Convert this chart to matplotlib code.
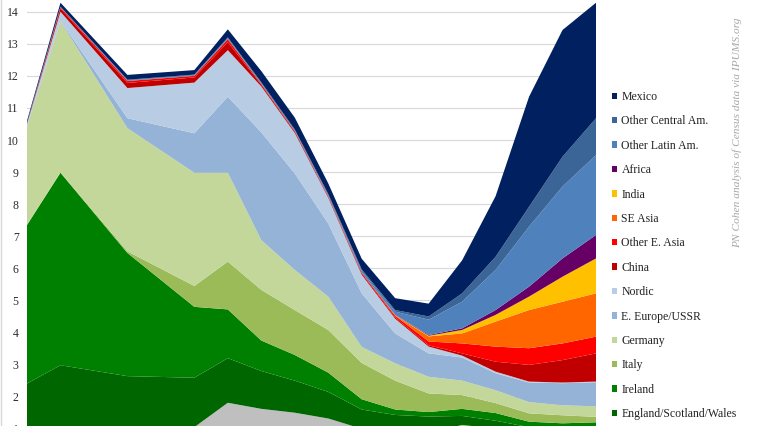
"""Immigrant share of the population by origin, stacked area (cropped view as in reference)."""
import matplotlib
matplotlib.use("Agg")
import matplotlib.pyplot as plt
from matplotlib.lines import Line2D

plt.rcParams["font.family"] = ["Liberation Serif", "DejaVu Serif"]

YEARS = [1850, 1860, 1880, 1900, 1910, 1920, 1930, 1940,
         1950, 1960, 1970, 1980, 1990, 2000, 2010, 2020]

# bottom layer (grey), its legend entry falls below the visible crop
other_grey = [0.50, 0.60, 0.80, 1.05, 1.81, 1.62, 1.50, 1.32, 1.00, 0.90, 0.85, 1.12, 1.00, 0.85, 0.80, 0.80]
england = [1.91, 2.38, 1.84, 1.54, 1.39, 1.18, 1.00, 0.83, 0.60, 0.53, 0.53, 0.28, 0.25, 0.20, 0.22, 0.28]
ireland = [4.94, 6.00, 3.84, 2.21, 1.52, 0.95, 0.80, 0.60, 0.32, 0.17, 0.14, 0.22, 0.24, 0.17, 0.15, 0.12]
italy = [0.01, 0.02, 0.05, 0.65, 1.49, 1.58, 1.40, 1.33, 1.13, 0.90, 0.58, 0.43, 0.31, 0.26, 0.25, 0.17]
germany = [3.06, 4.70, 3.84, 3.53, 2.77, 1.55, 1.25, 1.04, 0.50, 0.54, 0.52, 0.45, 0.40, 0.35, 0.31, 0.33]
e_europe = [0.03, 0.02, 0.31, 1.23, 2.37, 3.36, 3.01, 2.28, 1.67, 0.93, 0.73, 0.72, 0.53, 0.61, 0.69, 0.75]
nordic = [0.05, 0.28, 0.94, 1.58, 1.45, 1.43, 1.26, 0.80, 0.58, 0.46, 0.21, 0.06, 0.05, 0.03, 0.02, 0.02]
china = [0.02, 0.10, 0.16, 0.16, 0.25, 0.05, 0.04, 0.03, 0.04, 0.04, 0.04, 0.07, 0.31, 0.52, 0.70, 0.88]
other_e_asia = [0.00, 0.04, 0.06, 0.05, 0.09, 0.03, 0.02, 0.02, 0.03, 0.05, 0.12, 0.31, 0.47, 0.52, 0.52, 0.52]
se_asia = [0, 0, 0, 0, 0, 0, 0, 0, 0, 0.01, 0.16, 0.31, 0.78, 1.19, 1.30, 1.35]
india = [0, 0, 0, 0, 0, 0, 0, 0, 0, 0.01, 0.02, 0.11, 0.21, 0.42, 0.78, 1.09]
africa = [0, 0, 0, 0, 0, 0, 0, 0, 0, 0.01, 0.02, 0.05, 0.15, 0.31, 0.57, 0.73]
other_latin = [0.01, 0.01, 0.02, 0.02, 0.03, 0.02, 0.02, 0.03, 0.05, 0.10, 0.48, 0.83, 1.25, 1.87, 2.24, 2.49]
other_central = [0.01, 0.01, 0.02, 0.02, 0.03, 0.03, 0.03, 0.04, 0.05, 0.05, 0.10, 0.26, 0.41, 0.62, 0.93, 1.15]
mexico = [0.06, 0.12, 0.15, 0.14, 0.25, 0.35, 0.37, 0.33, 0.33, 0.37, 0.40, 1.03, 1.89, 3.43, 3.95, 3.60]

SERIES = [other_grey, england, ireland, italy, germany, e_europe, nordic, china,
          other_e_asia, se_asia, india, africa, other_latin, other_central, mexico]
LABELS = ["_grey", "England/Scotland/Wales", "Ireland", "Italy", "Germany",
          "E. Europe/USSR", "Nordic", "China", "Other E. Asia", "SE Asia", "India",
          "Africa", "Other Latin Am.", "Other Central Am.", "Mexico"]
COLORS = ["#BFBFBF", "#006600", "#008000", "#9BBB59", "#C4D79B", "#95B3D7", "#B8CCE4",
          "#C00000", "#FF0000", "#FF6600", "#FFC000", "#660066", "#4F81BD", "#3A6596",
          "#002060"]

W, H = 758, 426
PX_PER_UNIT = 32.08
YMAX = 14.365


def main():
    fig = plt.figure(figsize=(W / 100, H / 100), dpi=100)
    ax_h = YMAX * PX_PER_UNIT
    ax = fig.add_axes([27 / W, (H - ax_h) / H, 569 / W, ax_h / H])

    polys = ax.stackplot(YEARS, *SERIES, colors=COLORS, labels=LABELS,
                         linewidth=0, zorder=2)

    ax.set_xlim(YEARS[0], YEARS[-1])
    ax.set_ylim(0, YMAX)
    ax.set_yticks(range(1, 15))
    ax.set_xticks([])
    ax.tick_params(axis="y", length=0, pad=6, labelsize=8.5, labelcolor="#2b2b2b")
    ax.grid(axis="y", color="#D9D9D9", linewidth=0.8, zorder=0)
    ax.set_axisbelow(True)
    for s in ax.spines.values():
        s.set_visible(False)

    handles = [p for p, l in zip(polys, LABELS) if not l.startswith("_")][::-1]
    labels = [l for l in LABELS if not l.startswith("_")][::-1]
    ax.legend(handles, labels, loc="upper left", bbox_to_anchor=(612 / W, 1 - 91 / H),
              bbox_transform=fig.transFigure, frameon=False, fontsize=8.5,
              handlelength=0.45, handleheight=0.45, handletextpad=0.35,
              labelspacing=1.05, borderaxespad=0, borderpad=0,
              labelcolor="#222222")

    fig.text(737 / W, 1 - 133 / H, "PN Cohen analysis of Census data via IPUMS.org",
             rotation=90, ha="center", va="center", fontstyle="italic",
             color="#A6A6A6", fontsize=8.2)
    fig.add_artist(Line2D([0.5 / W, 0.5 / W], [0, 1], color="#D9D9D9", linewidth=1))

    fig.savefig("out.png", dpi=100)


if __name__ == "__main__":
    main()
